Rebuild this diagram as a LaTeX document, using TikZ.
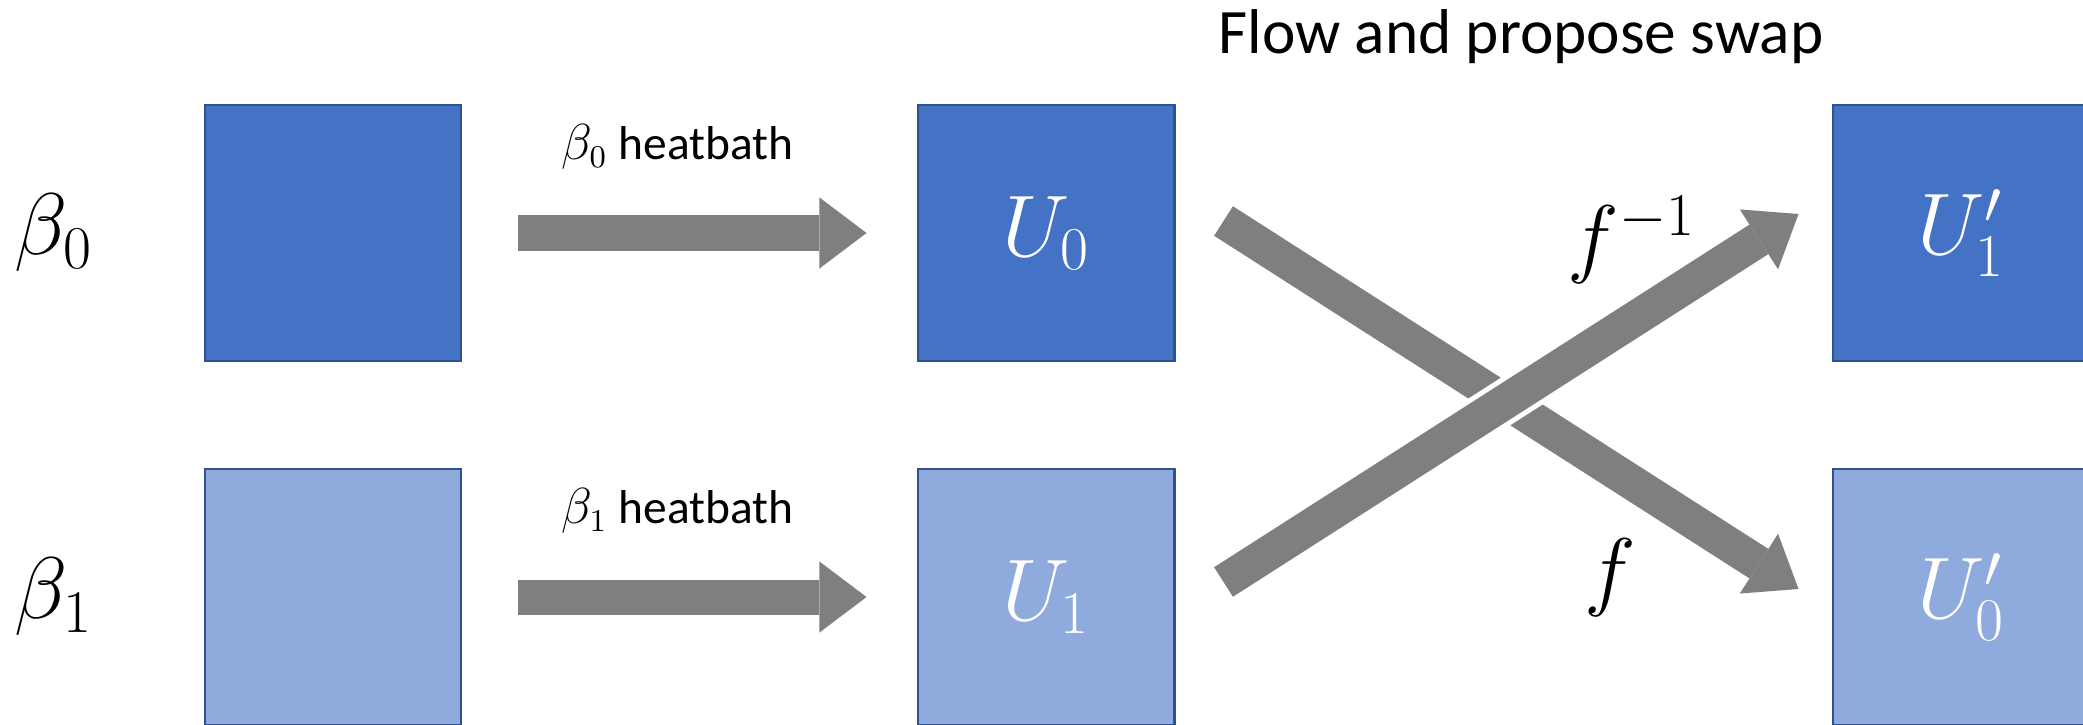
\documentclass[tikz,border=0pt]{standalone}
\usepackage[no-math]{fontspec}
\setmainfont{Carlito}
\usetikzlibrary{arrows.meta,positioning}

\definecolor{coldblue}{HTML}{4472C4}
\definecolor{hotblue}{HTML}{8FAADC}
\definecolor{cellline}{HTML}{2F528F}
\definecolor{flowgray}{HTML}{7F7F7F}

\tikzset{
  cell/.style={draw=cellline, line width=0.8pt, minimum size=2.56cm, inner sep=0pt,
    text=white, font=\fontsize{24}{28}\selectfont},
  coldcell/.style={cell, fill=coldblue},
  hotcell/.style={cell, fill=hotblue},
  bigmath/.style={inner sep=0pt, font=\fontsize{24}{28}\selectfont},
  bathlabel/.style={inner sep=0pt, text=black, font=\fontsize{13.5}{16}\selectfont},
  blockarrow/.style={flowgray, line width=0.35cm,
    -{Triangle[length=0.47cm, width=0.71cm, line width=0pt]}},
}

\begin{document}
\begin{tikzpicture}[x=0.01cm, y=-0.01cm]
        \useasboundingbox (0, 0) rectangle (2083, 724);
        \clip (0, 0) rectangle (2083, 724);

        \node[coldcell] (b0) at (333, 233) {};
        \node[hotcell] (b1) at (333, 597) {};
        \node[coldcell] (u0) at (1046, 233) {$U_0$};
        \node[hotcell] (u1) at (1046, 597) {$U_1$};
        \node[coldcell] (u1p) at (1961, 233) {$U'_1$};
        \node[hotcell] (u0p) at (1961, 597) {$U'_0$};

        \node[bigmath, left=1.1cm of b0] (beta0) {$\beta_0$};
        \node[bigmath, left=1.1cm of b1] (beta1) {$\beta_1$};

        \node[anchor=base, font=\fontsize{18}{22}\selectfont] (title) at (1521, 53) {Flow and propose swap};

        \draw[blockarrow, shorten <=0.55cm, shorten >=0.5cm] (b0.east) -- (u0.west)
          node[bathlabel, midway, above=0.46cm, xshift=-0.12cm] (bath0) {$\beta_0$ heatbath};
        \draw[blockarrow, shorten <=0.55cm, shorten >=0.5cm] (b1.east) -- (u1.west)
          node[bathlabel, midway, above=0.46cm, xshift=-0.12cm] (bath1) {$\beta_1$ heatbath};

        % swap: U0 goes down, U1 goes up and passes over it
        \draw[blockarrow] ([xshift=0.48cm, yshift=0.12cm]u0.east) -- ([xshift=-0.33cm, yshift=0.08cm]u0p.west);
        \draw[white, line width=0.45cm, shorten >=0.5cm] ([xshift=0.48cm, yshift=0.15cm]u1.east) -- ([xshift=-0.33cm, yshift=0.19cm]u1p.west);
        \draw[blockarrow] ([xshift=0.48cm, yshift=0.15cm]u1.east) -- ([xshift=-0.33cm, yshift=0.19cm]u1p.west);

        \node[bigmath] (finv) at (1632, 240) {$f^{-1}$};
        \node[bigmath] (fwd) at (1610, 578) {$f$};
      \end{tikzpicture}
\end{document}
